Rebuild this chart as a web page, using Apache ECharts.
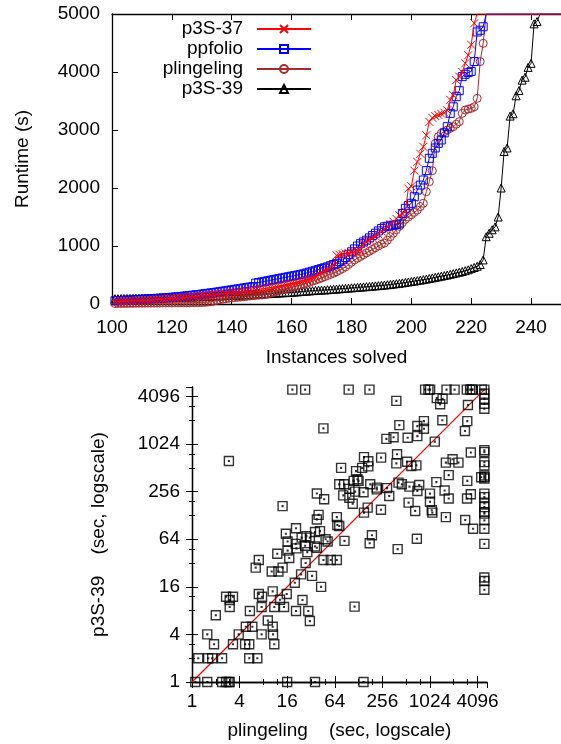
<!DOCTYPE html>
<html><head><meta charset="utf-8">
<script src="https://cdn.jsdelivr.net/npm/echarts@6/dist/echarts.min.js"></script>
<style>html,body{margin:0;padding:0;background:#fff}#c{width:561px;height:744px}</style>
</head><body><div id="c"></div>
<script>
// ---------- Top chart data (cactus plot) ----------
const firstInstance = 101;
const lastInstance = 250;
const timeoutSec = 5000;
const seriesNames = ['p3S-37', 'ppfolio', 'plingeling', 'p3S-39'];
const xTicksTop = [100, 120, 140, 160, 180, 200, 220, 240];
const yTicksTop = [0, 1000, 2000, 3000, 4000, 5000];

const p3s37 = [45,47,49,51,53,55,57,59,61,63,
 65,68,71,74,77,80,84,88,92,96,
 100,104,108,112,116,120,125,130,135,140,
 145,150,155,160,165,170,175,180,186,192,
 198,204,210,216,222,229,236,243,250,258,
 266,275,284,293,302,312,322,332,343,354,
 366,378,390,403,416,430,450,480,510,540,
 570,600,630,660,
 840,850,860,870,880,890,900,915,930,
 1050,1080,1110,1140,1170,1200,1250,1290,1330,1380,1420,1470,1530,1560,1600,
 1990,2030,2300,2450,2590,2710,2910,3140,3210,3240,3260,3280,3300,3340,3520,3600,3860,3920,4000,4150,4290,4470,4840];

const ppfolio = [55,58,61,64,67,70,73,76,79,82,
 85,88,91,94,97,100,104,108,112,116,
 120,125,130,135,140,146,152,158,164,170,
 177,184,191,198,205,212,220,228,236,244,
 252,260,268,276,284,292,300,
 360,370,380,390,400,410,420,430,440,450,460,470,480,
 490,500,510,520,535,550,565,580,595,610,625,640,660,680,700,
 730,760,800,850,900,950,1000,1040,
 1070,1100,1140,1180,1220,1260,1300,1330,1340,1350,1360,1370,1380,
 1560,1650,1700,1736,1850,1965,2050,2138,2300,2512,2598,2690,2770,2828,2950,3057,3287,3400,3575,3678,3920,3960,3990,4010,4180,4690,4720,4780];

const plingeling = [8,9,10,10,11,12,12,13,14,14,
 15,15,16,16,17,17,18,18,19,19,
 20,20,21,21,22,22,23,24,25,26,
 28,32,40,50,62,72,82,90,98,105,
 110,115,120,126,132,138,144,148,152,156,
 165,175,190,205,220,235,250,262,275,288,
 300,315,330,345,360,375,395,410,430,450,
 470,490,510,530,555,580,610,640,680,720,
 760,790,820,850,880,910,940,970,1000,1030,
 1050,1100,1160,1220,1280,1340,1400,1460,1500,1540,
 1580,1620,1680,1736,1936,2108,2298,2770,2885,2943,
 2970,3000,3030,3057,3100,3144,3287,3345,3360,3373,3400,3546,4180,4494];

const p3s39 = [92,93,94,95,96,97,98,99,100,101,
 102,103,104,105,106,107,108,109,110,111,
 112,113,114,116,118,120,122,124,126,128,
 130,132,134,136,138,140,142,144,146,148,
 150,152,154,156,158,160,163,166,169,172,
 175,178,181,184,187,190,193,196,199,202,
 206,210,214,218,222,226,230,234,238,240,
 242,246,250,254,258,262,266,270,274,279,
 283,287,291,295,299,303,308,312,317,322,
 327,332,338,344,350,357,364,372,380,388,
 396,404,412,421,430,440,450,460,470,480,
 490,500,512,524,536,548,560,575,590,610,
 630,650,680,760,
 1160,1220,1280,1330,1500,2000,2630,2690,3240,3280,3590,3680,3860,3910,4080,4150,4830,4870];

// ---------- Bottom chart data (scatter, seconds) ----------
const scatterTicks = [1, 4, 16, 64, 256, 1024, 4096];
const scatterMinorTicks = [2, 3, 8, 12, 32, 48, 128, 192, 512, 768, 2048, 3072];
const logAxisMax = 5400;
const diagonal = [1, 5000];
// [plingeling, p3S-39]
const scatterPairs = [
 [18.6,5000],[27,5000],[46,1620],[2.93,625],[77,512],[38,243],[47,205],[14,168],[40,130],[38,114],
 [68,122],[15.4,75],[20.7,88],[16.2,60],[21,49],[12,42],[17,37],[7,35],[6.4,28],[10.2,25],
 [12.4,25],[14,28],[27.4,32],[46,35],[57,35],[68,35],[24,23],[33,22],[20,18],[43,16],
 [7,13],[7.7,12],[10.5,14],[15.8,13],[13,11],[2.7,12],[3.3,12],[3.0,10.9],[3.0,8.9],[2.0,7.0],
 [5.4,7.9],[7.6,8.9],[11,8.9],[14.6,8.9],[25,10.9],[20.7,7.9],[29.6,7.9],[31,5.9],[9.1,6.0],[4.8,5.0],
 [5.8,5.0],[10.5,5.0],[10.6,4],[7.6,4],[3.9,4],[1.56,4],[1.9,3],[3.3,3],[4.7,3],[5.3,3],
 [11,3],[1.2,2],[1.6,2],[1.8,2],[2.4,2],[5.3,2],[6.7,2],[1.1,1],[1.56,1],[2.4,1],
 [2.7,1],[2.9,1],[3.0,1],[16,1],[36,1],
 [20.5,56],[24.4,67],[28,70],[31,67],[36,79],[41.6,81],[27,53],[28.8,44],[36,52],[49,64],
 [52,60],[69,97],[16.2,46],[38,50],
 [96,5000],[176,5000],[890,5000],[980,5000],[1030,5000],[1660,5000],[2100,5000],[3000,5000],[3300,5000],[3470,5000],
 [3560,5000],[4640,5000],[5000,5000],
 [1250,3900],[1480,3830],[1380,3260],[385,3600],[3100,3190],
 [420,1780],[710,1730],[860,2000],[860,1600],[710,1290],[535,1230],[355,1250],[288,1190],[1470,2050],[1180,1100],
 [3040,2000],[2840,1500],[3370,800],
 [150,700],[170,620],[170,535],[142,512],[247,690],[393,760],[385,584],[526,613],[690,550],[596,540],
 [1630,596],[1980,657],[2350,596],[1770,415],[119,465],[124,367],[128,350],[111,350],[73,317],[84,317],
 [180,317],[218,288],[294,284],[410,333],[452,317],[564,296],[750,311],[710,261],[1235,338],[1570,265],
 [1770,210],[3040,350],[3370,237],[3020,210],[1025,242],[1025,191],[1080,149],[1100,139],[666,146],[550,186],
 [1630,122],[2860,112],[3600,87],[700,65],[400,48],[82,230],[98,278],[98,214],[108,180],[116,256],
 [148,252],[218,274],[313,226],[150,139],[167,161],[246,151],[73,94],[85,61],[189,72],[177,57],
 [114,9],[148,1],[4560,390],
 [5000,4450],[5000,3830],[5000,3320],[5000,2870],[5000,855],[5000,810],[5000,605],[5000,550],[5000,410],[5000,391],
 [5000,375],[5000,242],[5000,218],[5000,181],[5000,163],[5000,141],[5000,135],[5000,111],[5000,87],[5000,56],
 [5000,21],[5000,19],[5000,14.7]
];

// ---------- Build ----------
const FONT = 'Liberation Sans';
const txt = {color:'#000', fontFamily: FONT, fontSize: 19};
function cactus(arr){
  const d = arr.map((v,i)=>[firstInstance+i, v]);
  for (let n = firstInstance + arr.length; n <= lastInstance; n++) d.push({value:[n, timeoutSec], symbol:'none'});
  return d;
}
const lg = v => Math.log2(v);
const axisLine = {show:true, lineStyle:{color:'#000', width:1.3}};
const tick = {show:true, inside:true, length:6, lineStyle:{color:'#000', width:1}};
const minorTickCfg = {show:true, inside:true, length:3, customValues: scatterMinorTicks.map(lg), lineStyle:{color:'#000', width:1}};
const markerDefs = [
  {color:'#ff0000', symbol:'path://M0,0L10,10M10,0L0,10'},
  {color:'#0000ff', symbol:'path://M0,0H10V10H0Z'},
  {color:'#a52a2a', symbol:'circle'},
  {color:'#000000', symbol:'triangle'}
];
const dataSets = [p3s37, ppfolio, plingeling, p3s39];
const lineSeries = seriesNames.map((name,i)=>({
  name, type:'line', xAxisIndex:0, yAxisIndex:0, color: markerDefs[i].color,
  data: cactus(dataSets[i]), symbol: markerDefs[i].symbol, symbolSize: 8, showAllSymbol:true,
  lineStyle:{color:markerDefs[i].color, width:1},
  itemStyle:{color:'transparent', borderColor:markerDefs[i].color, borderWidth:1},
  clip:true, animation:false, z: 10-i
}));

const logFmt = v => String(Math.round(Math.pow(2, v)));
const isInt = v => Math.abs(v-Math.round(v))<1e-6;
const LMAX = lg(logAxisMax);
function logAxis(extra){
  return Object.assign({gridIndex:1, type:'value', min:0, max:LMAX, interval:2, splitLine:{show:false}}, extra);
}
const chart = echarts.init(document.getElementById('c'), null, {renderer:'canvas'});
chart.setOption({
  animation:false,
  backgroundColor:'#fff',
  textStyle:{fontFamily:FONT},
  grid:[{left:112, top:14, width:454, height:290},{left:192, top:387, width:295, height:295}],
  legend:{
    orient:'vertical', align:'right', right:249, top:19, padding:0, itemWidth:54, itemHeight:10, itemGap:0,
    selectedMode:false, data: seriesNames,
    textStyle:Object.assign({}, txt, {lineHeight:20, padding:[0,9,0,0]})
  },
  xAxis:[
    {gridIndex:0, type:'value', min:100, max:250, interval:20, axisLine, axisTick:tick, splitLine:{show:false},
     axisLabel:Object.assign({margin:14, showMaxLabel:false, formatter: v=> xTicksTop.includes(v)? String(v):''}, txt),
     name:'Instances solved', nameLocation:'middle', nameGap:44, nameTextStyle:txt},
    {gridIndex:0, type:'value', position:'top', min:100, max:250, interval:20, axisLine, axisTick:tick, splitLine:{show:false}, axisLabel:{show:false}},
    logAxis({axisLine, axisTick:tick,
     axisLabel:Object.assign({margin:10, showMaxLabel:false, formatter: v => isInt(v) && scatterTicks.includes(Math.round(Math.pow(2,v))) ? logFmt(v) : ''}, txt),
     name:'plingeling    (sec, logscale)', nameLocation:'middle', nameGap:39, nameTextStyle:txt}),
    logAxis({position:'top', axisLine, axisTick:tick, axisLabel:{show:false}}),
    logAxis({position:'bottom', axisLine:{show:false}, axisTick:minorTickCfg, axisLabel:{show:false}}),
    logAxis({position:'top', axisLine:{show:false}, axisTick:minorTickCfg, axisLabel:{show:false}})
  ],
  yAxis:[
    {gridIndex:0, type:'value', min:0, max:5000, interval:1000, axisLine, axisTick:tick, splitLine:{show:false},
     axisLabel:Object.assign({margin:12, formatter: v=> yTicksTop.includes(v)? String(v):''}, txt),
     name:'Runtime (s)', nameLocation:'middle', nameGap:80, nameTextStyle:txt},
    logAxis({position:'left', axisLine, axisTick:tick,
     axisLabel:Object.assign({margin:12, showMaxLabel:false, formatter: v => isInt(v) && scatterTicks.includes(Math.round(Math.pow(2,v))) ? logFmt(v) : ''}, txt),
     name:'p3S-39    (sec, logscale)', nameLocation:'middle', nameGap:84, nameTextStyle:txt}),
    logAxis({position:'right', axisLine, axisTick:tick, axisLabel:{show:false}}),
    logAxis({position:'left', axisLine:{show:false}, axisTick:minorTickCfg, axisLabel:{show:false}}),
    logAxis({position:'right', axisLine:{show:false}, axisTick:minorTickCfg, axisLabel:{show:false}})
  ],
  series: lineSeries.concat([
    {type:'line', xAxisIndex:2, yAxisIndex:1, color:'#ff0000',
     data: [[lg(diagonal[0]), lg(diagonal[0])],[lg(diagonal[1]), lg(diagonal[1])]],
     symbol:'none', lineStyle:{color:'#ff0000', width:1.2, opacity:1}, itemStyle:{color:'#ff0000'}, silent:true, z:3},
    {type:'scatter', xAxisIndex:2, yAxisIndex:1, data: scatterPairs.map(p=>[lg(p[0]), lg(p[1])]),
     symbol:'path://M0,0H10V10H0Z M4.6,4.6H5.4V5.4H4.6Z', symbolSize:9,
     itemStyle:{color:'transparent', borderColor:'#000', borderWidth:1.4}, z:4, clip:false}
  ])
});
</script></body></html>
